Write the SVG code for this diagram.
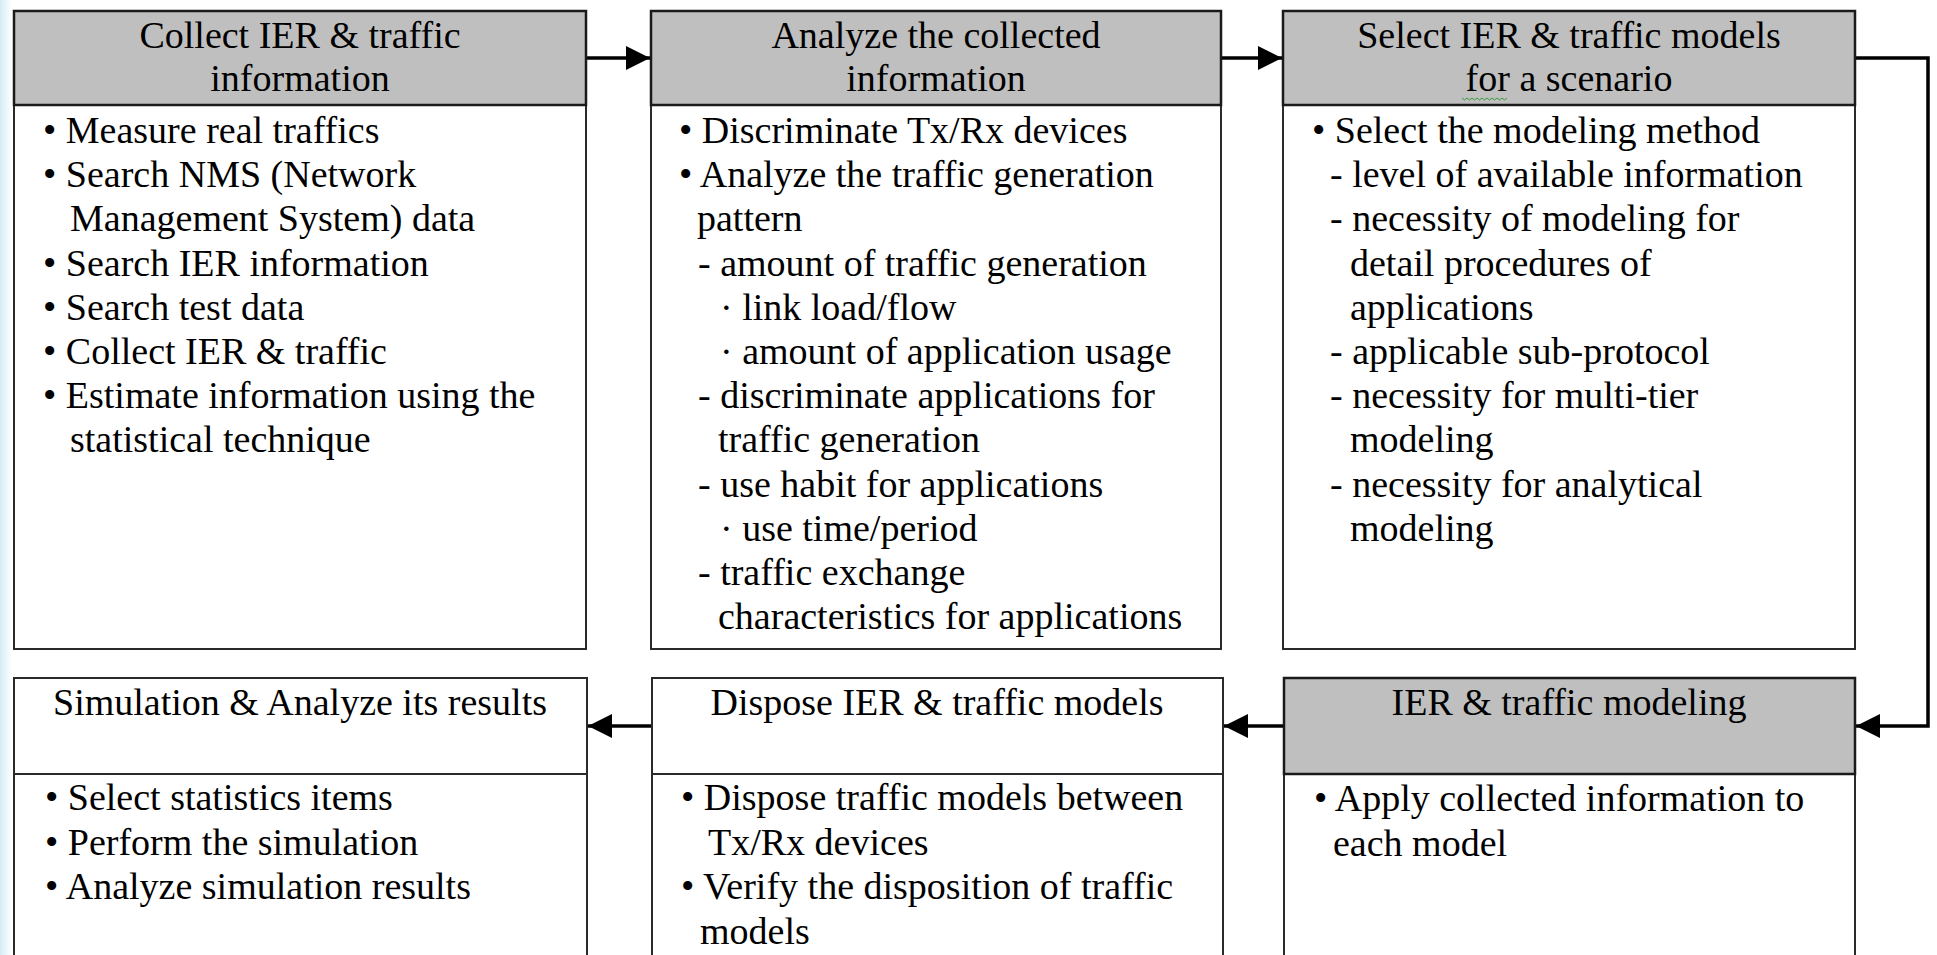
<svg xmlns="http://www.w3.org/2000/svg" width="1937" height="955" viewBox="0 0 1937 955">
<style>
.box{fill:#ffffff;stroke:#2a2a2a;stroke-width:2}
.hg{fill:#bfbfbf;stroke:#1a1a1a;stroke-width:2.5}
.hw{fill:#ffffff;stroke:#2a2a2a;stroke-width:2}
text{font-family:"Liberation Serif","Times New Roman",serif;font-size:38px;fill:#000}
.c{text-anchor:middle}
.conn{fill:none;stroke:#000;stroke-width:3.5}
</style>
<defs>
<linearGradient id="edge" x1="0" y1="0" x2="1" y2="0">
<stop offset="0" stop-color="#d4ebf5"/>
<stop offset="1" stop-color="#ffffff"/>
</linearGradient>
<marker id="ah" markerUnits="userSpaceOnUse" markerWidth="26" markerHeight="24" refX="24" refY="12" orient="auto">
<path d="M0,0 L24,12 L0,24 Z" fill="#000"/>
</marker>
</defs>
<rect x="0" y="0" width="1937" height="955" fill="#ffffff"/>
<rect x="0" y="0" width="12" height="955" fill="url(#edge)"/>

<g id="connectors">
<line class="conn" x1="586" y1="58" x2="650" y2="58" marker-end="url(#ah)"/>
<line class="conn" x1="1221" y1="58" x2="1282" y2="58" marker-end="url(#ah)"/>
<path class="conn" d="M1855,58 H1928 V726 H1856" marker-end="url(#ah)"/>
<line class="conn" x1="1284" y1="726" x2="1224" y2="726" marker-end="url(#ah)"/>
<line class="conn" x1="652" y1="726" x2="588" y2="726" marker-end="url(#ah)"/>
</g>

<g id="node-collect">
<rect class="box" x="14" y="105" width="572" height="544"/>
<rect class="hg" x="14" y="11" width="572" height="94"/>
<text class="c" x="300" y="48">Collect IER &amp; traffic</text>
<text class="c" x="300" y="91">information</text>
<text x="43" y="143">• Measure real traffics</text>
<text x="43" y="187">• Search NMS (Network</text>
<text x="70" y="231">Management System) data</text>
<text x="43" y="276">• Search IER information</text>
<text x="43" y="320">• Search test data</text>
<text x="43" y="364">• Collect IER &amp; traffic</text>
<text x="43" y="408">• Estimate information using the</text>
<text x="70" y="452">statistical technique</text>
</g>

<g id="node-analyze">
<rect class="box" x="651" y="105" width="570" height="544"/>
<rect class="hg" x="651" y="11" width="570" height="94"/>
<text class="c" x="936" y="48">Analyze the collected</text>
<text class="c" x="936" y="91">information</text>
<text x="679" y="143">• Discriminate Tx/Rx devices</text>
<text x="679" y="187">• Analyze the traffic generation</text>
<text x="697" y="231">pattern</text>
<text x="698" y="276">- amount of traffic generation</text>
<text x="720" y="320">· link load/flow</text>
<text x="720" y="364">· amount of application usage</text>
<text x="698" y="408">- discriminate applications for</text>
<text x="718" y="452">traffic generation</text>
<text x="698" y="497">- use habit for applications</text>
<text x="720" y="541">· use time/period</text>
<text x="698" y="585">- traffic exchange</text>
<text x="718" y="629">characteristics for applications</text>
</g>

<g id="node-select">
<rect class="box" x="1283" y="105" width="572" height="544"/>
<rect class="hg" x="1283" y="11" width="572" height="94"/>
<text class="c" x="1569" y="48">Select IER &amp; traffic models</text>
<text class="c" x="1569" y="91">for a scenario</text>
<path d="M1462,98 l2.5,2 l2.5,-2 l2.5,2 l2.5,-2 l2.5,2 l2.5,-2 l2.5,2 l2.5,-2 l2.5,2 l2.5,-2 l2.5,2 l2.5,-2 l2.5,2 l2.5,-2 l2.5,2 l2.5,-2 l2.5,2 l2.5,-2" fill="none" stroke="#3a9a3a" stroke-width="1"/>
<text x="1312" y="143">• Select the modeling method</text>
<text x="1330" y="187">- level of available information</text>
<text x="1330" y="231">- necessity of modeling for</text>
<text x="1350" y="276">detail procedures of</text>
<text x="1350" y="320">applications</text>
<text x="1330" y="364">- applicable sub-protocol</text>
<text x="1330" y="408">- necessity for multi-tier</text>
<text x="1350" y="452">modeling</text>
<text x="1330" y="497">- necessity for analytical</text>
<text x="1350" y="541">modeling</text>
</g>

<g id="node-simulation">
<rect class="box" x="14" y="774" width="573" height="200"/>
<rect class="hw" x="14" y="678" width="573" height="96"/>
<text class="c" x="300" y="715">Simulation &amp; Analyze its results</text>
<text x="45" y="810">• Select statistics items</text>
<text x="45" y="855">• Perform the simulation</text>
<text x="45" y="899">• Analyze simulation results</text>
</g>

<g id="node-dispose">
<rect class="box" x="652" y="774" width="571" height="200"/>
<rect class="hw" x="652" y="678" width="571" height="96"/>
<text class="c" x="937" y="715">Dispose IER &amp; traffic models</text>
<text x="681" y="810">• Dispose traffic models between</text>
<text x="708" y="855">Tx/Rx devices</text>
<text x="681" y="899">• Verify the disposition of traffic</text>
<text x="700" y="944">models</text>
</g>

<g id="node-modeling">
<rect class="box" x="1284" y="774" width="571" height="200"/>
<rect class="hg" x="1284" y="678" width="571" height="96"/>
<text class="c" x="1569" y="715">IER &amp; traffic modeling</text>
<text x="1314" y="811">• Apply collected information to</text>
<text x="1333" y="856">each model</text>
</g>
</svg>
